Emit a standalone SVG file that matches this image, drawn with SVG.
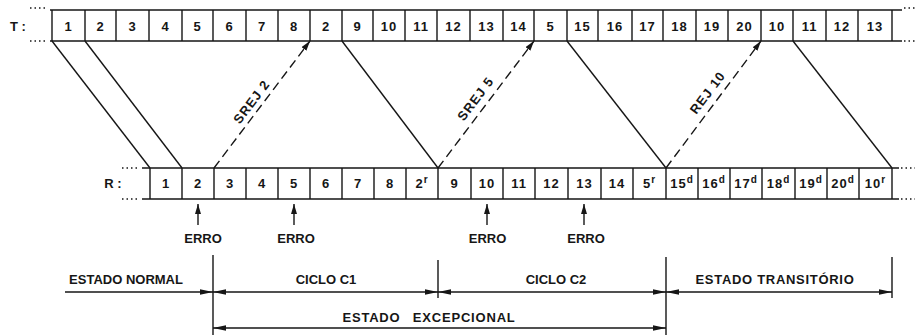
<svg xmlns="http://www.w3.org/2000/svg" width="915" height="335" viewBox="0 0 915 335">
<style>
text{font-family:"Liberation Sans",Arial,sans-serif;font-weight:bold;fill:#161616}
.c{font-size:13px;text-anchor:middle;letter-spacing:1px}
.l{font-size:13px;text-anchor:middle}
.sup{font-size:10px}
.ln{stroke:#161616;stroke-width:1.4;fill:none}
.dash{stroke:#161616;stroke-width:1.4;fill:none;stroke-dasharray:9 5}
.dots{stroke:#161616;stroke-width:1.3;stroke-dasharray:1.5 3;fill:none}
</style>
<defs>
<marker id="ah" viewBox="0 0 13 6" refX="13" refY="3" markerWidth="13" markerHeight="6" orient="auto-start-reverse" markerUnits="userSpaceOnUse"><path d="M0,0.3 L13,3 L0,5.7 z" fill="#161616"/></marker>
<marker id="ad" viewBox="0 0 10 6" refX="10" refY="3" markerWidth="10" markerHeight="6" orient="auto" markerUnits="userSpaceOnUse"><path d="M0,0 L10,3 L0,6 z" fill="#161616"/></marker>
</defs>
<rect width="915" height="335" fill="#fff"/>

<g id="row-T">
<text class="l" x="18" y="30.5">T :</text>
<path class="dots" d="M30,8 H45 M30,41 H45 M904,8 H915 M904,41 H915"/>
<path class="ln" d="M50,10 H902 M50,41 H902"/>
<path class="ln" d="M52,10V41 M85,10V41 M116,10V41 M149,10V41 M182,10V41 M213,10V41 M246,10V41 M278,10V41 M310,10V41 M342,10V41 M373,10V41 M405,10V41 M437,10V41 M470,10V41 M503,10V41 M534,10V41 M567,10V41 M598,10V41 M632,10V41 M663,10V41 M696,10V41 M728,10V41 M761,10V41 M793,10V41 M826,10V41 M858,10V41 M892,10V41"/>
<g id="t-cells">
<text class="c" x="68.5" y="30.5">1</text>
<text class="c" x="100.5" y="30.5">2</text>
<text class="c" x="132.5" y="30.5">3</text>
<text class="c" x="165.5" y="30.5">4</text>
<text class="c" x="197.5" y="30.5">5</text>
<text class="c" x="229.5" y="30.5">6</text>
<text class="c" x="262" y="30.5">7</text>
<text class="c" x="294" y="30.5">8</text>
<text class="c" x="326" y="30.5">2</text>
<text class="c" x="357.5" y="30.5">9</text>
<text class="c" x="389" y="30.5">10</text>
<text class="c" x="421" y="30.5">11</text>
<text class="c" x="453.5" y="30.5">12</text>
<text class="c" x="486.5" y="30.5">13</text>
<text class="c" x="518.5" y="30.5">14</text>
<text class="c" x="550.5" y="30.5">5</text>
<text class="c" x="582.5" y="30.5">15</text>
<text class="c" x="615" y="30.5">16</text>
<text class="c" x="647.5" y="30.5">17</text>
<text class="c" x="679.5" y="30.5">18</text>
<text class="c" x="712" y="30.5">19</text>
<text class="c" x="744.5" y="30.5">20</text>
<text class="c" x="777" y="30.5">10</text>
<text class="c" x="809.5" y="30.5">11</text>
<text class="c" x="842" y="30.5">12</text>
<text class="c" x="875" y="30.5">13</text>
</g>
</g>

<g id="row-R">
<text class="l" x="113" y="188">R :</text>
<path class="dots" d="M122,168 H140 M122,199 H140 M901,168 H915 M901,199 H915"/>
<path class="ln" d="M142,168 H899 M142,199 H899"/>
<path class="ln" d="M150,168V199 M182,168V199 M214,168V199 M246,168V199 M278,168V199 M310,168V199 M342,168V199 M374,168V199 M406,168V199 M438,168V199 M471,168V199 M503,168V199 M535,168V199 M568,168V199 M601,168V199 M633,168V199 M666,168V199 M698,168V199 M730,168V199 M762,168V199 M795,168V199 M827,168V199 M859,168V199 M892,168V199"/>
<g id="r-cells">
<text class="c" x="166" y="188">1</text>
<text class="c" x="198" y="188">2</text>
<text class="c" x="230" y="188">3</text>
<text class="c" x="262" y="188">4</text>
<text class="c" x="294" y="188">5</text>
<text class="c" x="326" y="188">6</text>
<text class="c" x="358" y="188">7</text>
<text class="c" x="390" y="188">8</text>
<text class="c" x="422" y="188">2<tspan class="sup" dy="-5">r</tspan></text>
<text class="c" x="454.5" y="188">9</text>
<text class="c" x="487" y="188">10</text>
<text class="c" x="519" y="188">11</text>
<text class="c" x="551.5" y="188">12</text>
<text class="c" x="584.5" y="188">13</text>
<text class="c" x="617" y="188">14</text>
<text class="c" x="649.5" y="188">5<tspan class="sup" dy="-5">r</tspan></text>
<text class="c" x="682" y="188">15<tspan class="sup" dy="-5">d</tspan></text>
<text class="c" x="714" y="188">16<tspan class="sup" dy="-5">d</tspan></text>
<text class="c" x="746" y="188">17<tspan class="sup" dy="-5">d</tspan></text>
<text class="c" x="778.5" y="188">18<tspan class="sup" dy="-5">d</tspan></text>
<text class="c" x="811" y="188">19<tspan class="sup" dy="-5">d</tspan></text>
<text class="c" x="843" y="188">20<tspan class="sup" dy="-5">d</tspan></text>
<text class="c" x="875.5" y="188">10<tspan class="sup" dy="-5">r</tspan></text>
</g>
</g>

<g id="connectors">
<path class="ln" d="M52,41 L150,168"/>
<path class="ln" d="M85,41 L182,168"/>
<path class="dash" d="M214,168 L310,41" marker-end="url(#ad)"/>
<path class="ln" d="M342,41 L438,168"/>
<path class="dash" d="M438,168 L534,41" marker-end="url(#ad)"/>
<path class="ln" d="M567,41 L666,168"/>
<path class="dash" d="M666,168 L761,41" marker-end="url(#ad)"/>
<path class="ln" d="M793,41 L892,168"/>
<text class="l" x="252" y="106" transform="rotate(-52.9 252 102)" style="letter-spacing:1px">SREJ 2</text>
<text class="l" x="476" y="103" transform="rotate(-52.9 476 99)" style="letter-spacing:1px">SREJ 5</text>
<text class="l" x="708" y="97" transform="rotate(-52.9 708 93)" style="letter-spacing:1px">REJ 10</text>
</g>

<g id="errors">
<path class="ln" d="M198,225 V204" marker-end="url(#ad)"/>
<path class="ln" d="M294,225 V204" marker-end="url(#ad)"/>
<path class="ln" d="M487,225 V204" marker-end="url(#ad)"/>
<path class="ln" d="M584,225 V204" marker-end="url(#ad)"/>
<text class="l" x="203" y="243">ERRO</text>
<text class="l" x="296" y="243">ERRO</text>
<text class="l" x="487.5" y="243">ERRO</text>
<text class="l" x="586" y="243">ERRO</text>
</g>

<g id="timeline">
<path class="ln" d="M213,255 V335 M438,260 V298 M666,257 V335 M892,257 V298"/>
<path class="ln" d="M65,292 H213" marker-end="url(#ah)"/>
<path class="ln" d="M213,292 H438" marker-start="url(#ah)" marker-end="url(#ah)"/>
<path class="ln" d="M438,292 H666" marker-start="url(#ah)" marker-end="url(#ah)"/>
<path class="ln" d="M666,292 H892" marker-start="url(#ah)" marker-end="url(#ah)"/>
<path class="ln" d="M213,328 H666" marker-start="url(#ah)" marker-end="url(#ah)"/>
<text class="l" x="126" y="284">ESTADO NORMAL</text>
<text class="l" x="326" y="284">CICLO C1</text>
<text class="l" x="556" y="284">CICLO C2</text>
<text class="l" x="775" y="284" style="letter-spacing:0.7px">ESTADO TRANSITÓRIO</text>
<text class="l" x="429" y="322" style="letter-spacing:0.8px;word-spacing:8px">ESTADO EXCEPCIONAL</text>
</g>
</svg>
